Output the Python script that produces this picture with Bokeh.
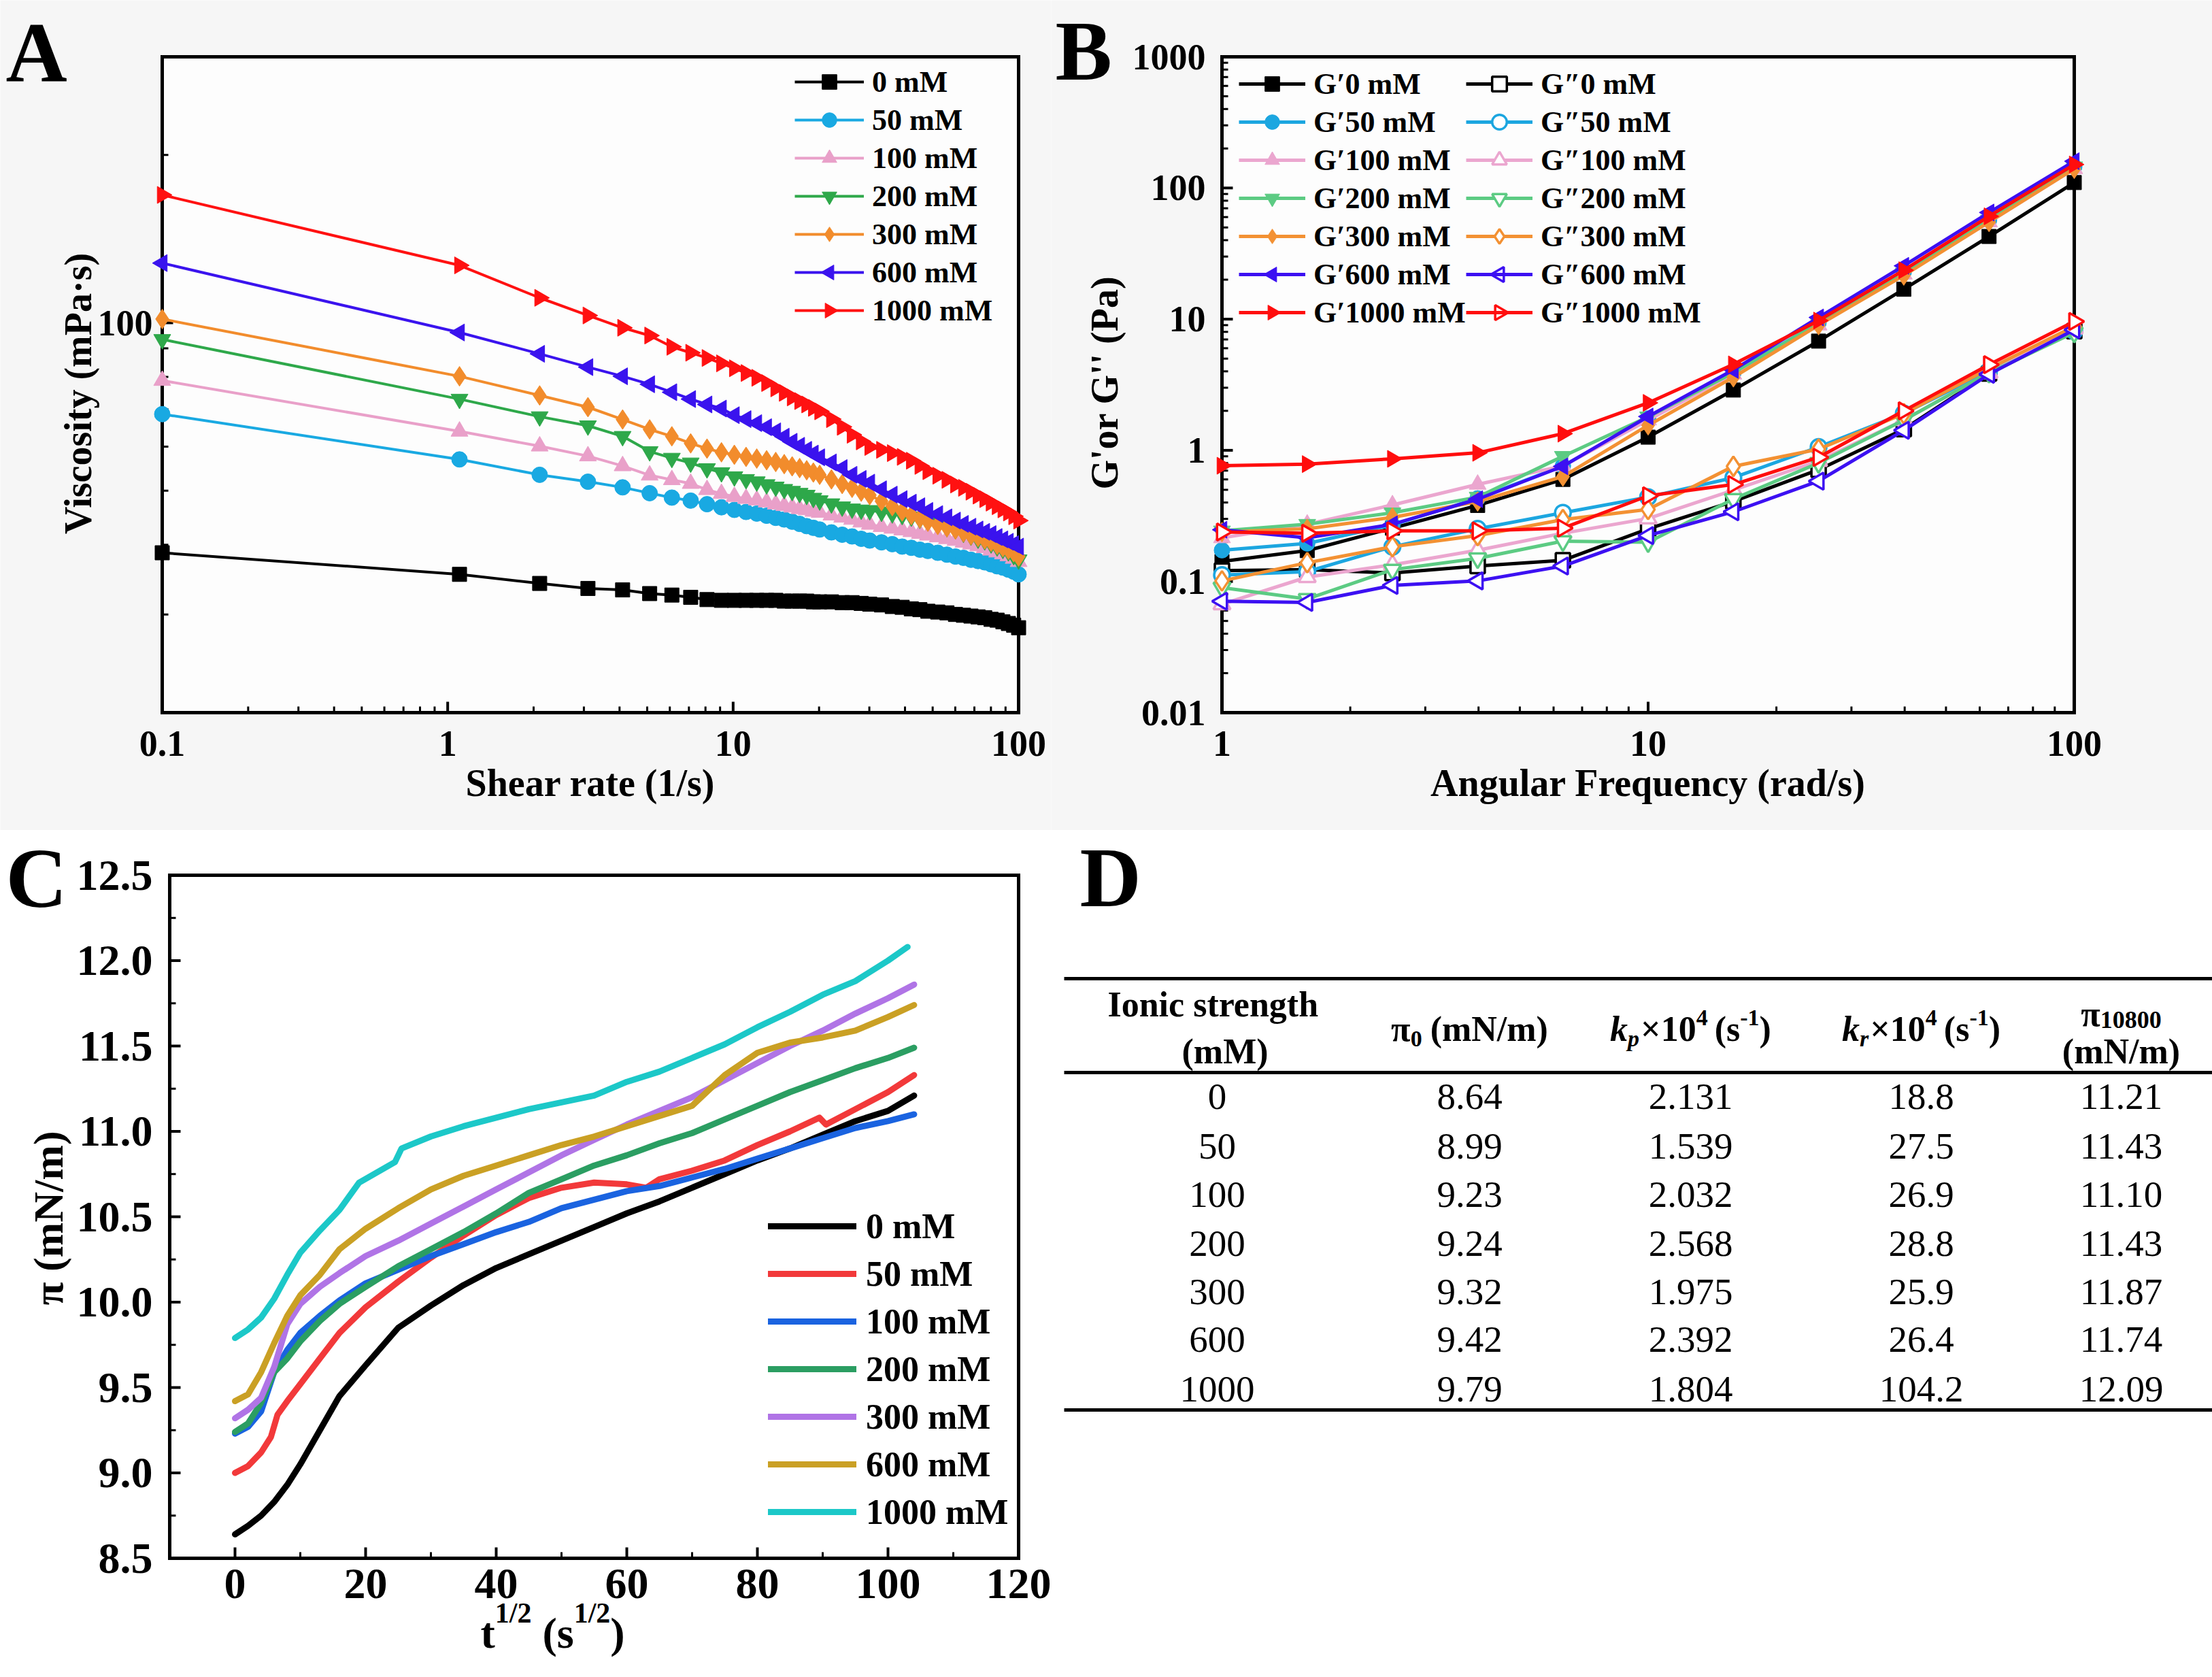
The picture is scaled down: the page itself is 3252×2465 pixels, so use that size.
import math
from bokeh.plotting import figure
from bokeh.layouts import column, row
from bokeh.models import Legend, LegendItem, Range1d
from bokeh.core.properties import value
from bokeh.embed import file_html
from bokeh.resources import INLINE

FONT = "Liberation Serif"

# ---------------- Panel A data: viscosity vs shear rate ----------------
shear_rate = [0.1, 1.1, 2.1, 3.1, 4.1, 5.1, 6.1, 7.1, 8.1, 9.1, 10.1,
              11.1, 12.1, 13.1, 14.1, 15.1, 16.1, 17.1, 18.1, 19.1, 20.1,
              22.1, 24.1, 26.1, 28.1, 30.1,
              33.1, 36.1, 39.1, 42.1, 45.1, 48.1,
              52.1, 56.1, 60.1, 64.1, 68.1, 72.1, 76.1, 80.1, 84.1, 88.1, 92.1, 96.1, 100]
visc_0 = [38.7, 35.4, 34.1, 33.4, 33.2, 32.7, 32.5, 32.2, 31.9, 31.8, 31.8,
          31.8, 31.8, 31.8, 31.8, 31.7, 31.7, 31.7, 31.7, 31.6, 31.6,
          31.6, 31.5, 31.5, 31.4, 31.3,
          31.2, 31.0, 30.9, 30.7, 30.6, 30.4,
          30.3, 30.2, 30.0, 29.9, 29.8, 29.7, 29.6, 29.4, 29.3, 29.1, 28.9, 28.7, 28.4]
visc_50 = [68.6, 56.9, 53.4, 51.9, 50.7, 49.5, 48.6, 48.0, 47.3, 46.7, 46.2,
           45.8, 45.5, 45.1, 44.7, 44.4, 44.0, 43.6, 43.2, 42.9, 42.6,
           42.1, 41.7, 41.4, 41.0, 40.7,
           40.4, 40.1, 39.7, 39.5, 39.2, 39.0,
           38.7, 38.4, 38.1, 37.9, 37.6, 37.4, 37.2, 36.9, 36.6, 36.4, 36.1, 35.8, 35.4]
visc_100 = [78.8, 63.9, 60.1, 57.7, 55.4, 53.3, 52.3, 51.5, 50.2, 49.4, 48.8,
            48.4, 48.1, 47.7, 47.3, 47.0, 46.7, 46.4, 46.2, 45.9, 45.7,
            45.2, 44.8, 44.4, 43.9, 43.5,
            43.1, 42.8, 42.5, 42.2, 41.9, 41.6,
            41.3, 41.0, 40.7, 40.4, 40.1, 39.8, 39.5, 39.1, 38.8, 38.5, 38.2, 37.8, 37.3]
visc_200 = [93.4, 73.0, 67.9, 65.4, 62.6, 58.8, 57.2, 56.1, 54.8, 53.9, 53.0,
            52.4, 51.9, 51.3, 50.8, 50.3, 49.9, 49.5, 49.1, 48.5, 48.0,
            47.4, 46.8, 46.4, 46.2, 46.1,
            45.8, 45.5, 45.2, 44.9, 44.5, 44.1,
            43.6, 43.0, 42.6, 42.0, 41.5, 41.0, 40.7, 40.2, 39.7, 39.3, 38.9, 38.3, 37.6]
visc_300 = [101.6, 80.2, 74.1, 70.6, 67.1, 64.4, 62.6, 60.8, 59.5, 58.6, 58.0,
            57.5, 57.1, 56.7, 56.3, 55.8, 55.3, 54.9, 54.4, 53.9, 53.4,
            52.4, 51.4, 50.6, 49.8, 49.1,
            47.9, 46.9, 45.9, 45.2, 44.6, 44.0,
            43.4, 43.0, 42.6, 42.1, 41.6, 41.3, 40.9, 40.5, 40.0, 39.6, 39.2, 38.8, 38.1]
visc_600 = [128.0, 96.1, 88.0, 83.3, 80.2, 77.6, 75.1, 73.0, 71.4, 70.2, 68.3,
            67.2, 66.1, 65.0, 63.9, 62.5, 61.2, 60.2, 59.2, 58.3, 57.4,
            56.2, 54.9, 53.4, 52.5, 51.7,
            50.3, 49.2, 48.3, 47.6, 46.9, 46.0,
            45.4, 44.8, 44.2, 43.6, 43.1, 42.6, 42.2, 41.8, 41.3, 40.9, 40.5, 40.1, 39.7]
visc_1000 = [169.6, 126.8, 110.9, 103.1, 98.0, 94.9, 90.6, 88.4, 86.5, 84.6, 82.9,
             81.3, 79.7, 78.0, 76.3, 74.9, 73.5, 72.4, 71.4, 70.4, 69.4,
             67.2, 65.1, 63.0, 61.3, 59.9,
             59.2, 58.4, 57.5, 56.6, 55.4, 54.2,
             53.2, 52.3, 51.3, 50.6, 49.8, 49.0, 48.3, 47.6, 46.9, 46.3, 45.7, 45.0, 44.2]
conc_labels = ["0 mM", "50 mM", "100 mM", "200 mM", "300 mM", "600 mM", "1000 mM"]
a_xticks, a_xtick_labels = [0.1, 1, 10, 100], ["0.1", "1", "10", "100"]
a_yticks, a_ytick_labels = [100], ["100"]

# ---------------- Panel B data: G' and G'' vs angular frequency ----------------
ang_freq = [1.0, 1.585, 2.512, 3.981, 6.31, 10.0, 15.85, 25.12, 39.81, 63.1, 100.0]
gp_0 = [0.142, 0.172, 0.255, 0.38, 0.60, 1.26, 2.88, 6.8, 16.9, 42.7, 110]
gp_50 = [0.173, 0.195, 0.27, 0.43, 0.76, 1.75, 3.9, 9.4, 23.0, 57, 145]
gp_100 = [0.215, 0.273, 0.383, 0.55, 0.76, 1.7, 3.8, 9.0, 22.0, 55, 140]
gp_200 = [0.243, 0.273, 0.334, 0.44, 0.90, 1.8, 3.9, 9.3, 22.5, 57, 145]
gp_300 = [0.238, 0.252, 0.308, 0.407, 0.63, 1.55, 3.6, 9.0, 21.5, 55, 140]
gp_600 = [0.248, 0.215, 0.273, 0.424, 0.755, 1.81, 4.1, 10.3, 25.5, 65, 160]
gp_1000 = [0.763, 0.785, 0.861, 0.957, 1.34, 2.30, 4.52, 9.75, 23.6, 60.8, 151]
gpp_0 = [0.121, 0.123, 0.116, 0.131, 0.145, 0.252, 0.407, 0.711, 1.45, 3.85, 8.1]
gpp_50 = [0.112, 0.119, 0.184, 0.252, 0.334, 0.44, 0.618, 1.06, 1.91, 4.03, 8.1]
gpp_100 = [0.067, 0.108, 0.134, 0.173, 0.233, 0.302, 0.497, 0.83, 1.7, 3.9, 8.5]
gpp_200 = [0.0897, 0.0735, 0.123, 0.150, 0.203, 0.199, 0.425, 0.80, 1.7, 3.9, 7.9]
gpp_300 = [0.101, 0.139, 0.184, 0.224, 0.296, 0.354, 0.755, 1.02, 1.9, 4.2, 8.8]
gpp_600 = [0.0706, 0.0692, 0.0933, 0.101, 0.131, 0.224, 0.34, 0.582, 1.42, 3.8, 8.3]
gpp_1000 = [0.238, 0.233, 0.243, 0.243, 0.255, 0.45, 0.548, 0.884, 2.0, 4.5, 9.6]
gp_labels = ["G\u20320 mM", "G\u203250 mM", "G\u2032100 mM", "G\u2032200 mM", "G\u2032300 mM",
             "G\u2032600 mM", "G\u20321000 mM"]
gpp_labels = ["G\u20330 mM", "G\u203350 mM", "G\u2033100 mM", "G\u2033200 mM", "G\u2033300 mM",
              "G\u2033600 mM", "G\u20331000 mM"]
b_xticks, b_xtick_labels = [1, 10, 100], ["1", "10", "100"]
b_yticks, b_ytick_labels = [0.01, 0.1, 1, 10, 100, 1000], ["0.01", "0.1", "1", "10", "100", "1000"]

# ---------------- Panel C data: surface pressure vs t^1/2 ----------------
t_half = [0, 2, 4, 6, 8, 10, 13, 16, 20, 25, 30, 35, 40, 45, 50, 55, 60, 65, 70, 75, 80, 85, 90, 95, 100, 104]
pi_0 = [8.64, 8.69, 8.75, 8.83, 8.93, 9.05, 9.25, 9.45, 9.63, 9.85, 9.98, 10.10, 10.20, 10.28, 10.36,
        10.44, 10.52, 10.59, 10.67, 10.75, 10.83, 10.90, 10.98, 11.06, 11.12, 11.21]
t_half_50 = [0, 2, 4, 5.5, 6.5, 8, 10, 13, 16, 20, 25, 30, 35, 40, 45, 50, 55, 60, 63, 65, 70, 75, 80,
             85, 89.5, 90.5, 95, 100, 104]
pi_50 = [9.00, 9.04, 9.12, 9.21, 9.34, 9.42, 9.52, 9.67, 9.82, 9.97, 10.12, 10.26, 10.39, 10.51, 10.61,
         10.67, 10.70, 10.69, 10.67, 10.72, 10.77, 10.83, 10.92, 11.00, 11.08, 11.04, 11.13, 11.23, 11.33]
pi_100 = [9.23, 9.27, 9.36, 9.59, 9.72, 9.82, 9.92, 10.01, 10.11, 10.19, 10.27, 10.34, 10.41, 10.47,
          10.55, 10.60, 10.65, 10.68, 10.73, 10.78, 10.84, 10.90, 10.96, 11.02, 11.06, 11.10]
pi_200 = [9.24, 9.29, 9.41, 9.59, 9.67, 9.77, 9.89, 9.99, 10.09, 10.21, 10.31, 10.41, 10.52, 10.64,
          10.72, 10.80, 10.86, 10.93, 10.99, 11.07, 11.15, 11.23, 11.30, 11.37, 11.43, 11.49]
pi_300 = [9.32, 9.37, 9.44, 9.62, 9.87, 9.99, 10.09, 10.17, 10.27, 10.36, 10.46, 10.56, 10.66, 10.76,
          10.86, 10.95, 11.04, 11.12, 11.20, 11.30, 11.40, 11.50, 11.59, 11.69, 11.78, 11.86]
pi_600 = [9.42, 9.46, 9.59, 9.76, 9.92, 10.04, 10.16, 10.31, 10.43, 10.55, 10.66, 10.74, 10.80, 10.86,
          10.92, 10.97, 11.03, 11.09, 11.15, 11.33, 11.46, 11.52, 11.55, 11.59, 11.67, 11.74]
t_half_1000 = [0, 2, 4, 6, 8, 10, 13, 16, 19, 24.5, 25.5, 30, 35, 40, 45, 50, 55, 60, 65, 70, 75, 80,
               85, 90, 95, 100, 103]
pi_1000 = [9.79, 9.84, 9.91, 10.02, 10.16, 10.29, 10.42, 10.54, 10.70, 10.82, 10.90, 10.97, 11.03, 11.08,
           11.13, 11.17, 11.21, 11.29, 11.35, 11.43, 11.51, 11.61, 11.70, 11.80, 11.88, 12.00, 12.08]
c_xticks, c_xtick_labels = [0, 20, 40, 60, 80, 100, 120], ["0", "20", "40", "60", "80", "100", "120"]
c_yticks = [8.5, 9.0, 9.5, 10.0, 10.5, 11.0, 11.5, 12.0, 12.5]
c_ytick_labels = ["8.5", "9.0", "9.5", "10.0", "10.5", "11.0", "11.5", "12.0", "12.5"]

# ---------------- Panel D data: kinetic parameters table ----------------
ionic_strength = ["0", "50", "100", "200", "300", "600", "1000"]
pi0_vals = ["8.64", "8.99", "9.23", "9.24", "9.32", "9.42", "9.79"]
kp_vals = ["2.131", "1.539", "2.032", "2.568", "1.975", "2.392", "1.804"]
kr_vals = ["18.8", "27.5", "26.9", "28.8", "25.9", "26.4", "104.2"]
pi10800_vals = ["11.21", "11.43", "11.10", "11.43", "11.87", "11.74", "12.09"]

# ---------------- helpers ----------------
CW = {'π': 0.55, '(': 0.333, ')': 0.333, 'm': 0.833, 'N': 0.722, '/': 0.278, 's': 0.389,
      ' ': 0.25, 'k': 0.5, 'p': 0.5, 'r': 0.389, '×': 0.57, '-': 0.333, 't': 0.333}


def tw(s, size):
    return sum(CW.get(c, 0.5) for c in s) * size


def log_minor(exps):
    return [m * 10.0 ** e for e in exps for m in range(2, 10)]


class Frame:
    """Maps canvas pixels <-> data for a figure whose plotting area fills the whole canvas."""

    def __init__(self, L, T, W, H, cw, ch, xr, yr, xlog=False, ylog=False):
        self.L, self.T, self.W, self.H = L, T, W, H
        self.xlog, self.ylog = xlog, ylog
        self.fx = math.log10 if xlog else (lambda v: v)
        self.fy = math.log10 if ylog else (lambda v: v)
        self.u0 = self.fx(xr[0])
        self.du = (self.fx(xr[1]) - self.u0) / W
        self.v0 = self.fy(yr[0])
        self.dv = (self.fy(yr[1]) - self.v0) / H
        self.x_range = Range1d(self.X(0), self.X(cw))
        self.y_range = Range1d(self.Y(ch), self.Y(0))

    def X(self, px):
        u = self.u0 + (px - self.L) * self.du
        return 10 ** u if self.xlog else u

    def Y(self, py):
        v = self.v0 + (self.T + self.H - py) * self.dv
        return 10 ** v if self.ylog else v

    def PX(self, val):
        return self.L + (self.fx(val) - self.u0) / self.du

    def PY(self, val):
        return self.T + self.H - (self.fy(val) - self.v0) / self.dv


def make_fig(fr, cw, ch, bg):
    p = figure(width=cw, height=ch, x_axis_type="log" if fr.xlog else "linear",
               y_axis_type="log" if fr.ylog else "linear",
               x_range=fr.x_range, y_range=fr.y_range,
               x_axis_location=None, y_axis_location=None, min_border=0,
               output_backend="svg", toolbar_location=None, title=None,
               background_fill_color=bg, border_fill_color=bg)
    p.grid.visible = False
    p.outline_line_color = None
    return p


def ptext(p, fr, px, py, txt, size, align="left", style="bold", angle=0.0):
    p.text(x=[fr.X(px)], y=[fr.Y(py)], text=[txt], text_font=value(FONT), text_font_style=style,
           text_font_size=f"{size}px", text_align=align, text_baseline="middle", angle=angle,
           text_color="black")


def draw_axes(p, fr, xt, xt_lab, xminor, yt, yt_lab, yminor, xlab_cy, ylab_rx, tick_px,
              inner_fill=None):
    L, T, W, H = fr.L, fr.T, fr.W, fr.H
    if inner_fill:
        p.quad(left=[fr.X(L)], right=[fr.X(L + W)], top=[fr.Y(T)], bottom=[fr.Y(T + H)],
               fill_color=inner_fill, line_color=None)
    for vals, ln, lw in ((xt, 16, 4), (xminor, 9, 3)):
        pxs = [fr.PX(v) for v in vals]
        p.segment(x0=[fr.X(q) for q in pxs], y0=[fr.Y(T + H)] * len(pxs),
                  x1=[fr.X(q) for q in pxs], y1=[fr.Y(T + H - ln)] * len(pxs),
                  line_color="black", line_width=lw)
    for vals, ln, lw in ((yt, 16, 4), (yminor, 9, 3)):
        pys = [fr.PY(v) for v in vals]
        p.segment(x0=[fr.X(L)] * len(pys), y0=[fr.Y(q) for q in pys],
                  x1=[fr.X(L + ln)] * len(pys), y1=[fr.Y(q) for q in pys],
                  line_color="black", line_width=lw)
    p.segment(x0=[fr.X(L), fr.X(L), fr.X(L), fr.X(L + W)],
              y0=[fr.Y(T), fr.Y(T + H), fr.Y(T), fr.Y(T)],
              x1=[fr.X(L + W), fr.X(L + W), fr.X(L), fr.X(L + W)],
              y1=[fr.Y(T), fr.Y(T + H), fr.Y(T + H), fr.Y(T + H)],
              line_color="black", line_width=5, line_cap="square")
    p.text(x=xt, y=[fr.Y(xlab_cy)] * len(xt), text=xt_lab, text_font=value(FONT),
           text_font_style="bold", text_font_size=f"{tick_px}px", text_align="center",
           text_baseline="middle", text_color="black")
    p.text(x=[fr.X(ylab_rx)] * len(yt), y=yt, text=yt_lab, text_font=value(FONT),
           text_font_style="bold", text_font_size=f"{tick_px}px", text_align="right",
           text_baseline="middle", text_color="black")


def make_legend(items, loc, font_px, gw, gh, spacing, standoff):
    return Legend(items=items, location=loc, label_text_font=FONT, label_text_font_style="bold",
                  label_text_font_size=f"{font_px}px", label_text_color="black",
                  glyph_width=gw, glyph_height=gh, label_height=gh, spacing=spacing,
                  padding=5, margin=0, label_standoff=standoff,
                  border_line_alpha=0, background_fill_alpha=0)


# ================= Panel A =================
frA = Frame(238, 83, 1259, 964, 1545, 1220, (0.1, 100), (20, 300), xlog=True, ylog=True)
pA = make_fig(frA, 1545, 1220, "#f6f6f6")
draw_axes(pA, frA, a_xticks, a_xtick_labels, log_minor([-1, 0, 1]),
          a_yticks, a_ytick_labels, [20, 30, 40, 50, 60, 70, 80, 90, 200, 300],
          1092, 224, 54, inner_fill="#fdfdfd")
ptext(pA, frA, 238 + 1259 / 2, 1150, "Shear rate (1/s)", 56, align="center")
ptext(pA, frA, 114, 578, "Viscosity (mPa\u00b7s)", 56, align="center", angle=math.pi / 2)
ptext(pA, frA, 8, 76, "A", 125)

a_colors = ["#000000", "#19a9e2", "#e9a0c9", "#2ea84a", "#f28c2c", "#3a13ee", "#ff1111"]
a_markers = [("square", 0, 21), ("circle", 0, 23), ("triangle", 0, 25), ("inverted_triangle", 0, 25),
             ("diamond", 0, 29), ("triangle", math.pi / 2, 25), ("triangle", -math.pi / 2, 25)]
a_data = [visc_0, visc_50, visc_100, visc_200, visc_300, visc_600, visc_1000]
a_items = []
for lab, ys, col, (mk, ang, sz) in zip(conc_labels, a_data, a_colors, a_markers):
    lr = pA.line(shear_rate, ys, line_color=col, line_width=4)
    sr = pA.scatter(shear_rate, ys, marker=mk, angle=ang, size=sz, fill_color=col, line_color=col)
    a_items.append(LegendItem(label=lab, renderers=[lr, sr] if ang == 0 else [lr]))
A_LEG = (1163, 732)
pA.add_layout(make_legend(a_items, A_LEG, 44, 102, 54, 2, 12))
for k in (5, 6):
    mk, ang, sz = a_markers[k]
    gx = A_LEG[0] + 5 + 51
    gy = 1220 - A_LEG[1] - 400 + 5 + 27 + 56 * k
    pA.scatter([frA.X(gx)], [frA.Y(gy)], marker=mk, angle=ang, size=sz - 3,
               fill_color=a_colors[k], line_color=a_colors[k])

# ================= Panel B =================
frB = Frame(251, 83, 1253, 964, 1707, 1220, (1, 100), (0.01, 1000), xlog=True, ylog=True)
pB = make_fig(frB, 1707, 1220, "#f6f6f6")
draw_axes(pB, frB, b_xticks, b_xtick_labels, log_minor([0, 1]),
          b_yticks, b_ytick_labels, log_minor([-2, -1, 0, 1, 2]),
          1092, 227, 54, inner_fill="#fdfdfd")
ptext(pB, frB, 251 + 1253 / 2, 1150, "Angular Frequency (rad/s)", 56, align="center")
ptext(pB, frB, 78, 562, "G'or G'' (Pa)", 56, align="center", angle=math.pi / 2)
ptext(pB, frB, 6, 74, "B", 125)

b_colors = ["#000000", "#1ca6e0", "#eba6cf", "#5ccb83", "#f39133", "#3c10f2", "#ff0d0d"]
gp_data = [gp_0, gp_50, gp_100, gp_200, gp_300, gp_600, gp_1000]
gpp_data = [gpp_0, gpp_50, gpp_100, gpp_200, gpp_300, gpp_600, gpp_1000]
b_items1, b_items2 = [], []
for lab, ys, col, (mk, ang, sz) in zip(gp_labels, gp_data, b_colors, a_markers):
    lr = pB.line(ang_freq, ys, line_color=col, line_width=5)
    sr = pB.scatter(ang_freq, ys, marker=mk, angle=ang, size=sz, fill_color=col, line_color=col)
    b_items1.append(LegendItem(label=lab, renderers=[lr, sr] if ang == 0 else [lr]))
for lab, ys, col, (mk, ang, sz) in zip(gpp_labels, gpp_data, b_colors, a_markers):
    lr = pB.line(ang_freq, ys, line_color=col, line_width=5)
    sr = pB.scatter(ang_freq, ys, marker=mk, angle=ang, size=sz, fill_color="white",
                    line_color=col, line_width=3.5)
    b_items2.append(LegendItem(label=lab, renderers=[lr, sr] if ang == 0 else [lr]))
B_LEG = [(271, 729), (605, 729)]
pB.add_layout(make_legend(b_items1, B_LEG[0], 44, 98, 54, 2, 12))
pB.add_layout(make_legend(b_items2, B_LEG[1], 44, 98, 54, 2, 12))
for ci, filled in ((0, True), (1, False)):
    for k in (5, 6):
        mk, ang, sz = a_markers[k]
        gx = B_LEG[ci][0] + 5 + 49
        gy = 1220 - B_LEG[ci][1] - 400 + 5 + 27 + 56 * k
        pB.scatter([frB.X(gx)], [frB.Y(gy)], marker=mk, angle=ang, size=sz - 3,
                   fill_color=b_colors[k] if filled else "white", line_color=b_colors[k],
                   line_width=1 if filled else 3.5)

# ================= Panel C =================
frC = Frame(249, 66, 1248, 1004, 1555, 1245, (-10, 120), (8.5, 12.5))
pC = make_fig(frC, 1555, 1245, "white")
draw_axes(pC, frC, c_xticks, c_xtick_labels, [10, 30, 50, 70, 90, 110],
          c_yticks, c_ytick_labels, [8.75, 9.25, 9.75, 10.25, 10.75, 11.25, 11.75, 12.25],
          1107, 224, 64)
ptext(pC, frC, 70, 570, "\u03c0 (mN/m)", 62, align="center", angle=math.pi / 2)
ptext(pC, frC, 8, 70, "C", 125)
xl_pieces = [("t", 64, 0, 0), ("1/2", 42, -30, 0), ("(s", 64, 0, 16), ("1/2", 42, -30, 0), (")", 64, 0, 0)]
cx = 706
for txt, sz, dy, gap in xl_pieces:
    cx += gap
    ptext(pC, frC, cx, 1180 + dy, txt, sz)
    cx += tw(txt, sz)

c_colors = ["#000000", "#f2393a", "#1a63e0", "#2b9e62", "#b074e6", "#caa024", "#1cc8c8"]
c_series = [(t_half, pi_0), (t_half_50, pi_50), (t_half, pi_100), (t_half, pi_200),
            (t_half, pi_300), (t_half, pi_600), (t_half_1000, pi_1000)]
c_items = []
for lab, (xs, ys), col in zip(conc_labels, c_series, c_colors):
    lr = pC.line(xs, ys, line_color=col, line_width=9, line_join="round", line_cap="round")
    c_items.append(LegendItem(label=lab, renderers=[lr]))
pC.add_layout(make_legend(c_items, (1124, 207), 52, 130, 62, 8, 14))

# ================= Panel D (table) =================
frD = Frame(0, 0, 1697, 1245, 1697, 1245, (0, 1697), (1245, 0))
pD = make_fig(frD, 1697, 1245, "white")
ptext(pD, frD, 32, 69, "D", 125)

rule_y = [218, 356, 852]
pD.segment(x0=[9] * 3, y0=rule_y, x1=[1697] * 3, y1=rule_y, line_color="black", line_width=5)

col_x = [234, 605, 930, 1269, 1563]
row_mid = [391, 464, 535, 607, 678, 748, 821]
for cxp, vals in zip(col_x, [ionic_strength, pi0_vals, kp_vals, kr_vals, pi10800_vals]):
    pD.text(x=[cxp] * len(vals), y=row_mid, text=vals, text_font=value(FONT),
            text_font_size="55px", text_align="center", text_baseline="middle", text_color="black")


def header_seq(pieces, center, mid):
    total = sum(tw(t, s) + g for t, s, st, dy, g in pieces)
    x = center - total / 2
    for t, s, st, dy, g in pieces:
        x += g
        pD.text(x=[x], y=[mid + dy], text=[t], text_font=value(FONT), text_font_style=st,
                text_font_size=f"{s}px", text_align="left", text_baseline="middle",
                text_color="black")
        x += tw(t, s)


header_seq([("Ionic strength", 52, "bold", 0, 0)], col_x[0], 256)
header_seq([("(mM)", 52, "bold", 0, 0)], col_x[0], 325)
header_seq([("π", 52, "bold", 0, 0), ("0", 34, "bold", 14, 0), ("(mN/m)", 52, "bold", 0, 12)], col_x[1], 292)
for sub, cxp in (("p", col_x[2]), ("r", col_x[3])):
    header_seq([("k", 52, "bold italic", 0, 0), (sub, 34, "bold italic", 14, 0), ("×10", 52, "bold", 0, 2),
                ("4", 34, "bold", -17, 0), ("(s", 52, "bold", 0, 10), ("-1", 34, "bold", -17, 0),
                (")", 52, "bold", 0, 0)], cxp, 292)
header_seq([("π", 52, "bold", 0, 0), ("10800", 36, "bold", 8, 0)], col_x[4], 270)
header_seq([("(mN/m)", 52, "bold", 0, 0)], col_x[4], 325)

layout = column(row(pA, pB, spacing=0), row(pC, pD, spacing=0), spacing=0)
open("out.html", "w").write(file_html(layout, INLINE))
